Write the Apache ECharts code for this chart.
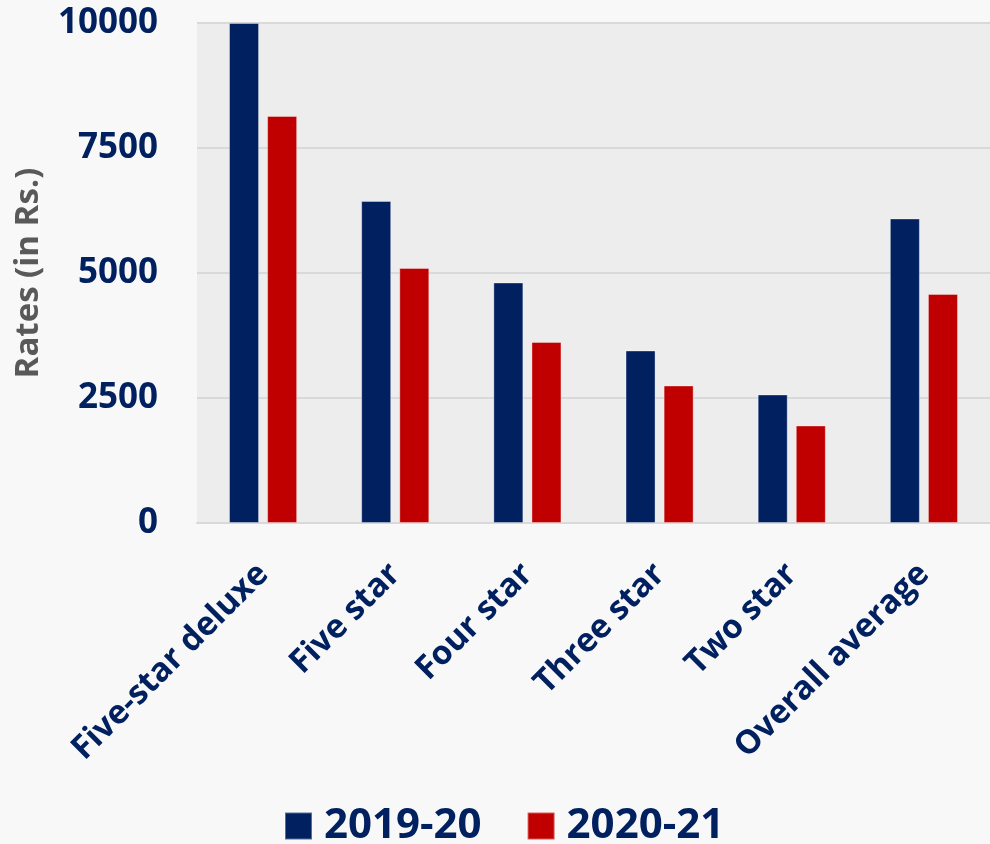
<!DOCTYPE html>
<html>
<head>
<meta charset="utf-8">
<script src="https://cdn.jsdelivr.net/npm/echarts@6/dist/echarts.min.js"></script>
<style>
html,body{margin:0;padding:0;background:#f8f8f8;}
#chart{width:990px;height:844px;}
</style>
</head>
<body>
<div id="chart"></div>
<script>
const categories = ["Five-star deluxe", "Five star", "Four star", "Three star", "Two star", "Overall average"];
const series2019 = [10000, 6440, 4810, 3450, 2570, 6090];
const series2020 = [8140, 5100, 3620, 2750, 1950, 4580];
const seriesNames = ["2019-20", "2020-21"];
const yTicks = { min: 0, max: 10000, interval: 2500 };

const navy = '#002060';
const red = '#C00000';
const font = 'Open Sans';

const chart = echarts.init(document.getElementById('chart'));
chart.setOption({
  backgroundColor: '#f8f8f8',
  animation: false,
  grid: {
    left: 197, right: 0, top: 23, bottom: 321,
    containLabel: false, outerBoundsMode: 'none',
    show: true, backgroundColor: '#ededed', borderWidth: 0
  },
  legend: {
    data: seriesNames,
    left: 279, top: 800,
    icon: 'rect', itemWidth: 27, itemHeight: 27, itemGap: 45,
    textStyle: { color: navy, fontFamily: font, fontWeight: 'bold', fontSize: 42, padding: [0, 0, 0, 7] }
  },
  xAxis: {
    type: 'category',
    data: categories,
    axisLine: { show: true, lineStyle: { color: '#d9d9d9', width: 2 } },
    axisTick: { show: false },
    axisLabel: {
      rotate: 45, interval: 0, margin: 46,
      color: navy, fontFamily: font, fontWeight: 'bold', fontSize: 33
    }
  },
  yAxis: {
    type: 'value',
    min: yTicks.min, max: yTicks.max, interval: yTicks.interval,
    name: 'Rates (in Rs.)',
    nameLocation: 'middle',
    nameGap: 152,
    nameTextStyle: { color: '#595959', fontFamily: font, fontWeight: 'bold', fontSize: 33 },
    axisLine: { show: false },
    axisTick: { show: false },
    splitLine: { lineStyle: { color: '#d9d9d9', width: 2 } },
    axisLabel: {
      margin: 39, color: navy, fontFamily: font, fontWeight: 'bold', fontSize: 35,
      formatter: function (v) { return String(v); }
    }
  },
  series: [
    {
      name: seriesNames[0], type: 'bar', data: series2019,
      barWidth: 30, barGap: '27%',
      itemStyle: { color: navy, borderColor: 'rgba(255,255,255,0.35)', borderWidth: 1 }
    },
    {
      name: seriesNames[1], type: 'bar', data: series2020,
      barWidth: 30, barGap: '27%',
      itemStyle: { color: red, borderColor: 'rgba(255,255,255,0.35)', borderWidth: 1 }
    }
  ]
});
</script>
</body>
</html>
